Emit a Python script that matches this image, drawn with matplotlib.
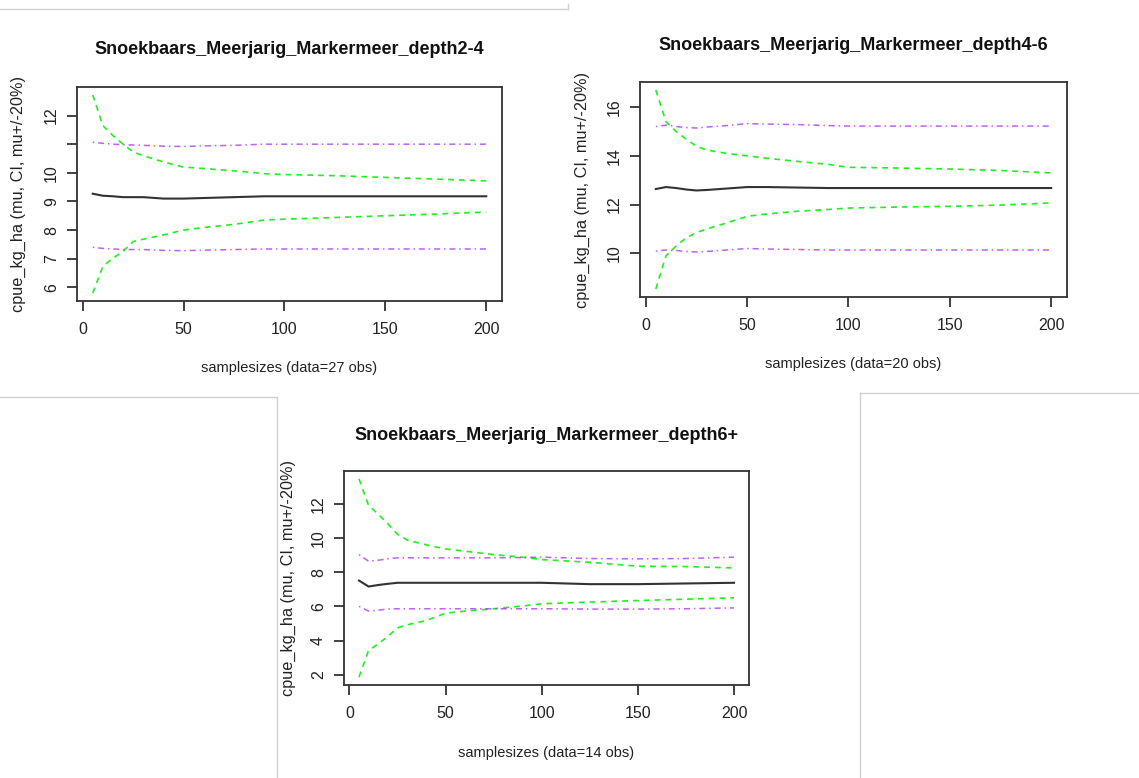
import matplotlib
matplotlib.use("Agg")
import matplotlib.pyplot as plt
from matplotlib.lines import Line2D

plt.rcParams['font.family'] = ['Liberation Sans', 'DejaVu Sans']

# ---- data ----
samplesizes = [5, 10, 15, 20, 25, 30, 40, 50, 60, 75, 90, 100, 125, 150, 175, 200]

titles = ["Snoekbaars_Meerjarig_Markermeer_depth2-4",
          "Snoekbaars_Meerjarig_Markermeer_depth4-6",
          "Snoekbaars_Meerjarig_Markermeer_depth6+"]
xlabels = ["samplesizes (data=27 obs)",
           "samplesizes (data=20 obs)",
           "samplesizes (data=14 obs)"]
ylabel = "cpue_kg_ha (mu, CI, mu+/-20%)"

# panel 1 (depth2-4)
mu_1 = [9.27, 9.20, 9.18, 9.15, 9.15, 9.15, 9.10, 9.10, 9.12, 9.15, 9.18, 9.18, 9.18, 9.18, 9.18, 9.18]
ci_hi_1 = [12.72, 11.65, 11.30, 11.00, 10.73, 10.60, 10.38, 10.20, 10.15, 10.07, 9.97, 9.94, 9.90, 9.84, 9.78, 9.72]
ci_lo_1 = [5.80, 6.73, 7.02, 7.25, 7.60, 7.68, 7.83, 8.00, 8.09, 8.20, 8.35, 8.38, 8.44, 8.50, 8.56, 8.63]
p20_hi_1 = [11.07, 11.03, 11.00, 10.98, 10.97, 10.96, 10.93, 10.92, 10.94, 10.96, 11.0, 11.0, 11.0, 11.0, 11.0, 11.0]
p20_lo_1 = [7.40, 7.36, 7.34, 7.32, 7.32, 7.32, 7.29, 7.28, 7.30, 7.32, 7.34, 7.34, 7.34, 7.34, 7.34, 7.34]
yticks_1 = [6, 7, 8, 9, 10, 11, 12]
yticklabels_1 = ["6", "7", "8", "9", "10", "", "12"]

# panel 2 (depth4-6)
mu_2 = [12.64, 12.72, 12.68, 12.62, 12.58, 12.60, 12.66, 12.72, 12.72, 12.70, 12.68, 12.68, 12.68, 12.68, 12.68, 12.68]
ci_hi_2 = [16.70, 15.40, 15.00, 14.68, 14.40, 14.24, 14.10, 14.00, 13.90, 13.77, 13.65, 13.53, 13.50, 13.46, 13.40, 13.30]
ci_lo_2 = [8.54, 9.90, 10.30, 10.64, 10.85, 11.00, 11.25, 11.52, 11.62, 11.73, 11.80, 11.86, 11.90, 11.93, 11.98, 12.07]
p20_hi_2 = [15.20, 15.26, 15.20, 15.16, 15.14, 15.18, 15.24, 15.32, 15.30, 15.28, 15.24, 15.22, 15.22, 15.22, 15.22, 15.22]
p20_lo_2 = [10.10, 10.14, 10.12, 10.08, 10.06, 10.08, 10.14, 10.20, 10.18, 10.16, 10.14, 10.14, 10.14, 10.14, 10.14, 10.14]
yticks_2 = [10, 12, 14, 16]
yticklabels_2 = ["10", "12", "14", "16"]

# panel 3 (depth6+)
mu_3 = [7.51, 7.16, 7.25, 7.32, 7.38, 7.38, 7.38, 7.38, 7.38, 7.38, 7.38, 7.38, 7.30, 7.30, 7.34, 7.38]
ci_hi_3 = [13.46, 11.90, 11.40, 10.83, 10.23, 9.88, 9.60, 9.36, 9.23, 9.03, 8.88, 8.74, 8.58, 8.35, 8.33, 8.25]
ci_lo_3 = [1.86, 3.42, 3.80, 4.24, 4.74, 4.92, 5.17, 5.60, 5.72, 5.86, 6.02, 6.15, 6.25, 6.34, 6.42, 6.50]
p20_hi_3 = [9.03, 8.64, 8.70, 8.78, 8.84, 8.84, 8.84, 8.84, 8.84, 8.84, 8.86, 8.88, 8.80, 8.78, 8.80, 8.88]
p20_lo_3 = [6.00, 5.72, 5.78, 5.84, 5.86, 5.86, 5.86, 5.86, 5.86, 5.86, 5.86, 5.86, 5.84, 5.84, 5.86, 5.91]
yticks_3 = [2, 4, 6, 8, 10, 12]
yticklabels_3 = ["2", "4", "6", "8", "10", "12"]

xticks = [0, 50, 100, 150, 200]

# ---- layout (pixels) ----
W, H = 1139, 778
fig = plt.figure(figsize=(W / 100, H / 100), dpi=100)

def px_axes(x0, y0, x1, y1):
    return fig.add_axes([x0 / W, 1 - y1 / H, (x1 - x0) / W, (y1 - y0) / H])

panels = [
    dict(box=(77, 87, 502, 301), title_y=50, xlab_y=368, ylab_x=18,
         mu=mu_1, hi=ci_hi_1, lo=ci_lo_1, phi=p20_hi_1, plo=p20_lo_1,
         yt=yticks_1, ytl=yticklabels_1),
    dict(box=(640, 82, 1067, 297), title_y=46, xlab_y=364, ylab_x=582,
         mu=mu_2, hi=ci_hi_2, lo=ci_lo_2, phi=p20_hi_2, plo=p20_lo_2,
         yt=yticks_2, ytl=yticklabels_2),
    dict(box=(344, 471, 749, 685), title_y=435, xlab_y=753, ylab_x=288,
         mu=mu_3, hi=ci_hi_3, lo=ci_lo_3, phi=p20_hi_3, plo=p20_lo_3,
         yt=yticks_3, ytl=yticklabels_3),
]

green = "#22ee22"
purple = "#a020f0"
axcol = "#333333"

for i, p in enumerate(panels):
    x0, y0, x1, y1 = p["box"]
    ax = px_axes(x0, y0, x1, y1)
    ax.plot(samplesizes, p["mu"], color="#333333", lw=1.5)
    ax.plot(samplesizes, p["hi"], color=green, lw=1.2, dashes=(3.5, 3))
    ax.plot(samplesizes, p["lo"], color=green, lw=1.2, dashes=(3.5, 3))
    ax.plot(samplesizes, p["phi"], color=purple, lw=1.1, alpha=0.7, dashes=(1, 2.5, 4, 2.5))
    ax.plot(samplesizes, p["plo"], color=purple, lw=1.1, alpha=0.7, dashes=(1, 2.5, 4, 2.5))
    ax.margins(x=0.04, y=0.04)
    ax.set_xticks(xticks)
    ax.set_xticklabels([str(v) for v in xticks])
    ax.set_yticks(p["yt"])
    ax.set_yticklabels(p["ytl"], rotation=90, va="center")
    for s in ax.spines.values():
        s.set_color(axcol)
        s.set_linewidth(1.3)
    ax.tick_params(axis="both", colors=axcol, labelcolor="#222222",
                   labelsize=11.5, length=7, width=1.3, direction="out")
    ax.tick_params(axis="x", pad=8)
    ax.tick_params(axis="y", pad=6)
    cx = (x0 + x1) / 2
    fig.text(cx / W, 1 - p["title_y"] / H, titles[i], ha="center", va="center",
             fontsize=13, fontweight="bold", color="#111111")
    fig.text(cx / W, 1 - p["xlab_y"] / H, xlabels[i], ha="center", va="center",
             fontsize=10.5, color="#222222")
    fig.text(p["ylab_x"] / W, 1 - ((y0 + y1) / 2) / H, ylabel, ha="center", va="center",
             rotation=90, fontsize=11.7, color="#222222")

# ---- light separator lines of the composite ----
sep = "#d0d0d0"
def fline(xs, ys):
    fig.add_artist(Line2D([x / W for x in xs], [1 - y / H for y in ys],
                          color=sep, lw=1.0, transform=fig.transFigure))

fline([0, 568], [9, 9])
fline([568, 568], [4, 9])
fline([0, 277], [397, 397])
fline([277, 277], [397, 778])
fline([860, 1139], [393, 393])
fline([860, 860], [393, 778])

fig.savefig("out.png", dpi=100)
